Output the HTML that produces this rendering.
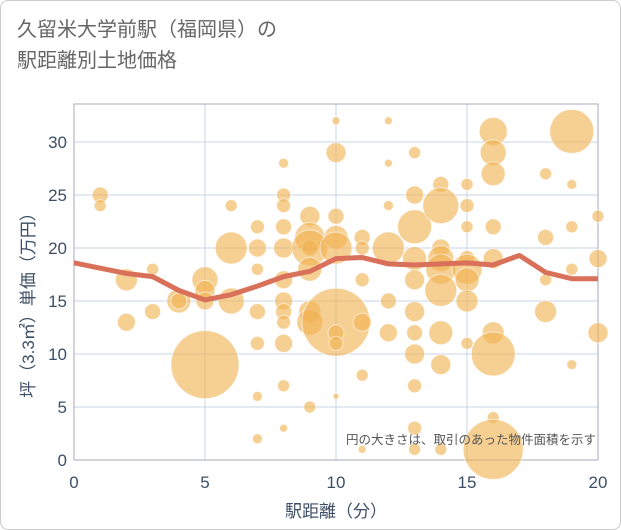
<!DOCTYPE html>
<html><head><meta charset="utf-8"><style>
body{margin:0;background:#fff;font-family:"Liberation Sans","Noto Sans CJK JP",sans-serif}
#wrap{position:relative;width:619px;height:528px;border:1px solid #ccc;border-radius:8px;overflow:hidden}
#title{position:absolute;left:16px;top:14px;font-size:20px;line-height:31px;color:#666}
</style></head><body>
<div id="wrap">
<div id="title">久留米大学前駅（福岡県）の<br>駅距離別土地価格</div>
<svg id="c" width="621" height="530" style="position:absolute;left:0;top:0"></svg>
</div>
<script>
const xTicks=[0,5,10,15,20];
const yTicks=[0,5,10,15,20,25,30];
const trendX=[0,1,2,3,4,5,6,7,8,9,10,11,12,13,14,15,16,17,18,19,20];
const trendY=[18.6,18.1,17.6,17.3,16,15.1,15.6,16.4,17.3,17.8,19,19.1,18.5,18.4,18.5,18.6,18.4,19.3,17.7,17.1,17.1];
const bubX=[1,1,2,2,3,3,4,4,5,5,5,5,6,6,6,7,7,7,7,7,7,7,8,8,8,8,8,8,8,8,8,8,8,8,9,9,9,9,9,9,9,9,10,10,10,10,10,10,10,10,10,11,11,11,11,11,11,12,12,12,12,12,12,13,13,13,13,13,13,13,13,13,13,13,14,14,14,14,14,14,14,14,14,15,15,15,15,15,15,15,15,16,16,16,16,16,16,16,16,16,18,18,18,18,19,19,19,19,19,20,20,20];
const bubY=[25,24,17,13,18,14,15,15,17,16,9,15,20,15,24,22,20,18,14,11,6,2,28,25,22,20,17,15,14,13,11,7,3,24,23,21,20,20,18,14,13,5,32,29,23,21,20,13,12,11,6,21,20,17,13,8,1,32,28,24,20,15,12,29,25,22,19,17,14,12,10,7,3,1,26,24,20,19,18,16,12,9,1,26,24,22,19,18,17,15,11,31,29,27,22,19,12,10,4,1,27,21,17,14,31,22,18,9,26,23,19,12];
const bubR=[8,6,11,9,6,8,12,8,13,10,34,9,16,13,6,7,9,6,8,7,5,5,5,7,8,10,9,9,8,7,9,6,4,7,10,15,8,18,12,11,13,6,4,10,8,12,16,34,8,7,3,8,7,7,9,6,4,4,4,5,16,8,9,6,9,17,12,10,10,8,10,7,7,6,8,18,9,13,15,16,12,10,6,6,7,6,8,15,12,11,6,14,13,12,8,10,11,22,6,30,6,8,6,11,22,6,6,5,5,6,9,10];
const L=73,R=597,T=103,B=459;
const sx=v=>L+(R-L)*v/20, sy=v=>B-(B-141)*v/30;
const svg=document.getElementById('c');const NS='http://www.w3.org/2000/svg';
function mk(t,a){const e=document.createElementNS(NS,t);for(const k in a)e.setAttribute(k,a[k]);svg.appendChild(e);return e;}
xTicks.forEach(v=>{const g=mk('line',{x1:sx(v),x2:sx(v),y1:T,y2:B,stroke:'#c9d6e6','stroke-width':1});


const t=mk('text',{x:sx(v),y:487,'text-anchor':'middle','font-size':17,fill:'#3d4f66'});t.textContent=v;

});
yTicks.forEach(v=>{const g=mk('line',{x1:L,x2:R,y1:sy(v),y2:sy(v),stroke:'#c9d6e6','stroke-width':1});


const t=mk('text',{x:66,y:sy(v)+6,'text-anchor':'end','font-size':17,fill:'#3d4f66'});t.textContent=v;

});
const fr=mk('rect',{x:L,y:T,width:R-L,height:B-T,fill:'none',stroke:'#aab','stroke-width':1});


bubX.forEach((x,i)=>{const c=mk('circle',{cx:sx(x),cy:sy(bubY[i]),r:bubR[i],fill:'rgba(240,178,80,0.62)',stroke:'rgba(255,255,255,0.6)','stroke-width':1});

});
const p=mk('polyline',{points:trendX.map((x,i)=>sx(x)+','+sy(trendY[i])).join(' '),fill:'none',stroke:'#d9705a','stroke-width':5,'stroke-linejoin':'round'});


const n=mk('text',{x:595,y:443,'text-anchor':'end','font-size':12.5,fill:'#555'});n.textContent='円の大きさは、取引のあった物件面積を示す';


const xt=mk('text',{x:335,y:516,'text-anchor':'middle','font-size':17,fill:'#3d4f66'});xt.textContent='駅距離（分）';


const yt=mk('text',{x:0,y:0,'text-anchor':'middle','font-size':17,fill:'#3d4f66',transform:'translate(33,300) rotate(-90)'});yt.textContent='坪（3.3㎡）単価（万円）';


</script>
</body></html>
